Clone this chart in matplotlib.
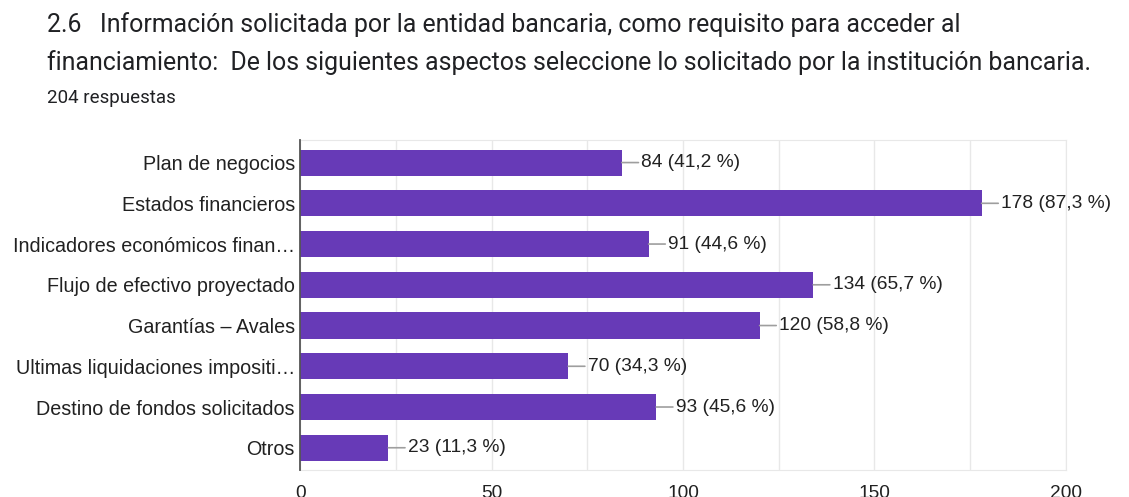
import matplotlib
matplotlib.use("Agg")
import matplotlib.pyplot as plt
import numpy as np

# Datos de la encuesta
categorias = [
    "Plan de negocios",
    "Estados financieros",
    "Indicadores económicos finan…",
    "Flujo de efectivo proyectado",
    "Garantías – Avales",
    "Ultimas liquidaciones impositi…",
    "Destino de fondos solicitados",
    "Otros",
]
respuestas = [84, 178, 91, 134, 120, 70, 93, 23]
porcentajes = ["41,2", "87,3", "44,6", "65,7", "58,8", "34,3", "45,6", "11,3"]
ticks_x = [0, 50, 100, 150, 200]

morado = "#673ab7"
fuente = "Liberation Sans"

fig = plt.figure(figsize=(11.29, 4.97), dpi=100)
ax = fig.add_axes([0.266, 0.054, 0.678, 0.664])

y = np.arange(len(categorias))
ax.barh(y, respuestas, height=0.64, color=morado, zorder=3)

for yi, v, p in zip(y, respuestas, porcentajes):
    ax.annotate(f"{v} ({p} %)", xy=(v, yi), xytext=(14, 0), textcoords="offset points",
                va="center", ha="left", fontsize=13.8, family=fuente, color="#212121",
                arrowprops=dict(arrowstyle="-", color="#9e9e9e", lw=1.2, shrinkA=0, shrinkB=0))

ax.set_xlim(0, 200)
ax.set_ylim(len(categorias) - 0.5 + 0.05, -0.5 - 0.05)
ax.set_yticks(y)
ax.set_yticklabels(categorias, fontsize=14.2, family=fuente, color="#212121")
ax.set_xticks(ticks_x)
ax.set_xticks(np.arange(0, 201, 25), minor=True)
ax.set_xticklabels([str(t) for t in ticks_x], fontsize=13.8, family=fuente, color="#212121")
ax.tick_params(axis="both", length=0, which="both")
ax.tick_params(axis="x", pad=11)
ax.tick_params(axis="y", pad=4)
ax.grid(True, axis="x", which="both", color="#e8e8e8", lw=1, zorder=0)

for lado in ["top", "right", "bottom"]:
    ax.spines[lado].set_color("#e8e8e8")
ax.spines["left"].set_color("#555555")
ax.spines["left"].set_linewidth(1.3)
ax.spines["left"].set_zorder(4)

fig.text(0.042, 0.935, "2.6   Información solicitada por la entidad bancaria, como requisito para acceder al",
         fontsize=17.9, family="Roboto", color="#202124", va="baseline")
fig.text(0.042, 0.859, "financiamiento:  De los siguientes aspectos seleccione lo solicitado por la institución bancaria.",
         fontsize=17.9, family="Roboto", color="#202124", va="baseline")
fig.text(0.042, 0.793, "204 respuestas", fontsize=13.5, family="Roboto", color="#202124", va="baseline")

fig.savefig("out.png", dpi=100)
